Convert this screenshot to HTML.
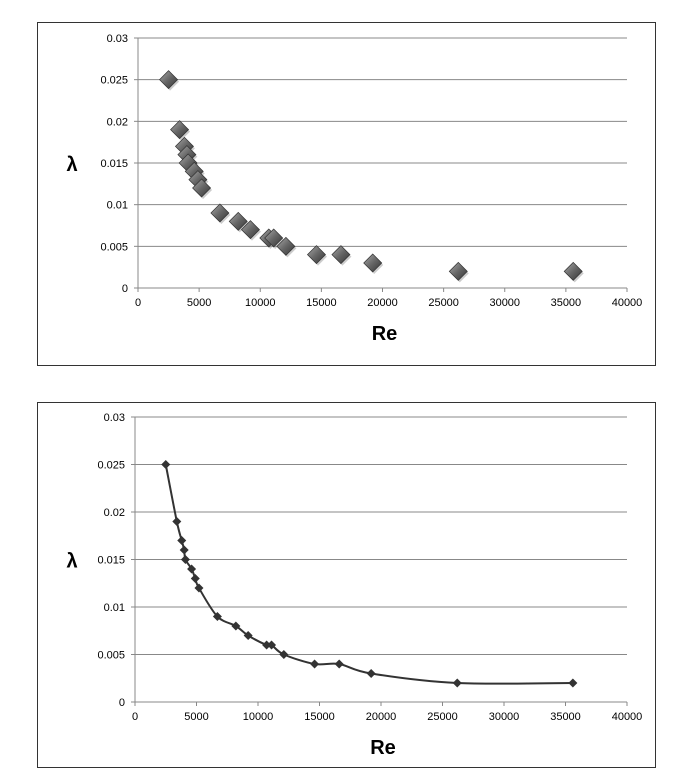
<!DOCTYPE html>
<html><head><meta charset="utf-8"><style>
html,body{margin:0;padding:0;background:#fff;width:693px;height:780px;overflow:hidden}
svg{display:block}
text{font-family:"Liberation Sans",sans-serif;fill:#000}
</style></head><body>
<svg id="s" width="693" height="780" xmlns="http://www.w3.org/2000/svg">
<defs>
<linearGradient id="g" x1="0" y1="0" x2="1" y2="1">
<stop offset="0" stop-color="#aaa"/><stop offset="0.5" stop-color="#666"/><stop offset="1" stop-color="#333"/>
</linearGradient>
</defs>
<rect x="37.5" y="22.5" width="618" height="343" fill="none" stroke="#333" stroke-width="1"/>
<rect x="37.5" y="402.5" width="618" height="365" fill="none" stroke="#333" stroke-width="1"/>
</svg>
<script>
var s=document.getElementById('s'),NS='http://www.w3.org/2000/svg';
function el(t,a,txt){var e=document.createElementNS(NS,t);for(var k in a)e.setAttribute(k,a[k]);if(txt!==undefined)e.textContent=txt;s.appendChild(e);return e;}
var D=[[2500,.025],[3400,.019],[3800,.017],[4000,.016],[4100,.015],[4600,.014],[4900,.013],[5200,.012],[6700,.009],[8200,.008],[9200,.007],[10700,.006],[11100,.006],[12100,.005],[14600,.004],[16600,.004],[19200,.003],[26200,.002],[35600,.002]];
function chart(x0,x1,yt,yb,big){
 var X=function(v){return x0+(x1-x0)*v/40000},Y=function(v){return yb-(yb-yt)*v/0.03};
 for(var i=0;i<=6;i++){var y=Y(i*0.005);
  if(i>0)el('line',{x1:x0,x2:x1,y1:y,y2:y,stroke:'#888','stroke-width':1});
  el('line',{x1:x0-4,x2:x0,y1:y,y2:y,stroke:'#888'});
  el('text',{x:x0-10,y:y+4,'font-size':11,'text-anchor':'end'},i==0?'0':String(+(i*0.005).toFixed(3)));}
 el('line',{x1:x0,x2:x0,y1:yt,y2:yb,stroke:'#888'});
 el('line',{x1:x0,x2:x1,y1:yb,y2:yb,stroke:'#888'});
 for(var j=0;j<=8;j++){var x=X(j*5000);el('line',{x1:x,x2:x,y1:yb,y2:yb+4,stroke:'#888'});
  el('text',{x:x,y:yb+18,'font-size':11,'text-anchor':'middle'},String(j*5000));}
 el('text',{x:(x0+x1)/2+2,y:yb+52,'font-size':20,'font-weight':'bold','text-anchor':'middle'},'Re');
 el('text',{x:72,y:(yt+yb)/2+8,'font-size':20,'font-weight':'bold','text-anchor':'middle'},'λ');
 if(!big){
  var P=D.map(function(d){return [X(d[0]),Y(d[1])]});
  var p='M'+P[0][0]+','+P[0][1];
  for(var i=0;i<P.length-1;i++){var a=P[i-1]||P[i],b=P[i],c=P[i+1],d=P[i+2]||c;
   p+=' C'+(b[0]+(c[0]-a[0])/6)+','+(b[1]+(c[1]-a[1])/6)+' '+(c[0]-(d[0]-b[0])/6)+','+(c[1]-(d[1]-b[1])/6)+' '+c[0]+','+c[1];}
  el('path',{d:p,fill:'none',stroke:'#333','stroke-width':2});
 }
 D.forEach(function(d){var x=X(d[0]),y=Y(d[1]),r=big?9:4.5;
  if(big)el('polygon',{points:(x+1.5)+','+(y-r+2)+' '+(x+r+1.5)+','+(y+2)+' '+(x+1.5)+','+(y+r+2)+' '+(x-r+1.5)+','+(y+2),fill:'#999',opacity:0.5});
  el('polygon',{points:x+','+(y-r)+' '+(x+r)+','+y+' '+x+','+(y+r)+' '+(x-r)+','+y,fill:big?'url(#g)':'#333',stroke:big?'#333':'none','stroke-width':0.7});});
}
chart(138,627,38,288,true);
chart(135,627,417,702,false);
</script>
</body></html>
